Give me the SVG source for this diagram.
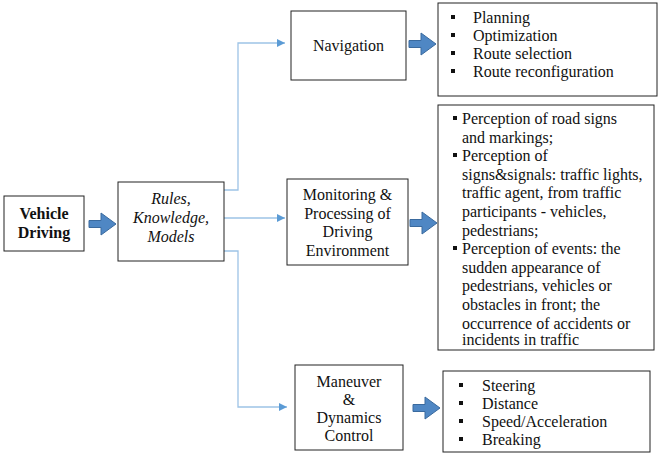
<svg xmlns="http://www.w3.org/2000/svg" width="665" height="462" viewBox="0 0 665 462">
<defs>
<style>
.box{fill:#fff;stroke:#222;stroke-width:1}
.t{font-family:"Liberation Serif","Times New Roman",serif;font-size:16px;fill:#111}
.c{text-anchor:middle}
.conn{fill:none;stroke:#9DC3E6;stroke-width:1.3}
.fat{fill:#4F87C4;stroke:#3A6A9E;stroke-width:1}
.bul{fill:#111}
</style>
<marker id="ah" markerWidth="10" markerHeight="10" refX="8" refY="4" orient="auto" markerUnits="userSpaceOnUse">
<path d="M0,0 L8,4 L0,8 Z" fill="#5B9BD5"/>
</marker>
<path id="fa" d="M0,-3.5 L12,-3.5 L12,-11 L27,0 L12,11 L12,3.5 L0,3.5 Z"/>
</defs>
<rect width="665" height="462" fill="#fff"/>

<g id="connectors">
<path class="conn" d="M224,190 H238 V43 H285" marker-end="url(#ah)"/>
<path class="conn" d="M224,218 H285" marker-end="url(#ah)"/>
<path class="conn" d="M224,251 H238 V407 H287" marker-end="url(#ah)"/>
<use href="#fa" class="fat" x="89" y="224"/>
<use href="#fa" class="fat" x="409" y="44"/>
<use href="#fa" class="fat" x="410" y="223"/>
<use href="#fa" class="fat" x="413" y="408"/>
</g>

<g id="vehicle-driving">
<rect class="box" x="4" y="196" width="80" height="55"/>
<text class="t c" x="44" y="219" font-weight="bold">Vehicle</text>
<text class="t c" x="44" y="238" font-weight="bold">Driving</text>
</g>

<g id="rules">
<rect class="box" x="118" y="182" width="106" height="79" stroke-width="2"/>
<text class="t c" x="171" y="204" font-style="italic">Rules,</text>
<text class="t c" x="171" y="223" font-style="italic">Knowledge,</text>
<text class="t c" x="171" y="242" font-style="italic">Models</text>
</g>

<g id="navigation">
<rect class="box" x="291" y="11" width="115" height="69"/>
<text class="t c" x="348.5" y="51">Navigation</text>
</g>

<g id="navigation-list">
<rect class="box" x="438" y="3" width="219" height="93"/>
<rect class="bul" x="451" y="15" width="4" height="4"/>
<rect class="bul" x="451" y="33" width="4" height="4"/>
<rect class="bul" x="451" y="51" width="4" height="4"/>
<rect class="bul" x="451" y="69" width="4" height="4"/>
<text class="t" x="473" y="23">Planning</text>
<text class="t" x="473" y="41">Optimization</text>
<text class="t" x="473" y="59">Route selection</text>
<text class="t" x="473" y="77">Route reconfiguration</text>
</g>

<g id="monitoring">
<rect class="box" x="287" y="179" width="121" height="86"/>
<text class="t c" x="347.5" y="200">Monitoring &amp;</text>
<text class="t c" x="347.5" y="218.5">Processing of</text>
<text class="t c" x="347.5" y="237">Driving</text>
<text class="t c" x="347.5" y="255.5">Environment</text>
</g>

<g id="monitoring-list">
<rect class="box" x="438" y="105" width="216" height="245"/>
<rect class="bul" x="453" y="116" width="4" height="4"/>
<rect class="bul" x="453" y="153" width="4" height="4"/>
<rect class="bul" x="453" y="246" width="4" height="4"/>
<text class="t" x="462" y="124">Perception of road signs</text>
<text class="t" x="462" y="142.6">and markings;</text>
<text class="t" x="462" y="161.2">Perception of</text>
<text class="t" x="462" y="179.8">signs&amp;signals: traffic lights,</text>
<text class="t" x="462" y="198.4">traffic agent, from traffic</text>
<text class="t" x="462" y="217">participants - vehicles,</text>
<text class="t" x="462" y="235.6">pedestrians;</text>
<text class="t" x="462" y="254.2">Perception of events: the</text>
<text class="t" x="462" y="272.8">sudden appearance of</text>
<text class="t" x="462" y="291.4">pedestrians, vehicles or</text>
<text class="t" x="462" y="310">obstacles in front; the</text>
<text class="t" x="462" y="328.6">occurrence of accidents or</text>
<text class="t" x="462" y="345">incidents in traffic</text>
</g>

<g id="maneuver">
<rect class="box" x="295" y="365" width="108" height="85"/>
<text class="t c" x="349" y="387">Maneuver</text>
<text class="t c" x="349" y="405">&amp;</text>
<text class="t c" x="349" y="423">Dynamics</text>
<text class="t c" x="349" y="441">Control</text>
</g>

<g id="maneuver-list">
<rect class="box" x="443" y="371" width="207" height="81"/>
<rect class="bul" x="459" y="383" width="4" height="4"/>
<rect class="bul" x="459" y="401" width="4" height="4"/>
<rect class="bul" x="459" y="419" width="4" height="4"/>
<rect class="bul" x="459" y="437" width="4" height="4"/>
<text class="t" x="482" y="391">Steering</text>
<text class="t" x="482" y="409">Distance</text>
<text class="t" x="482" y="427">Speed/Acceleration</text>
<text class="t" x="482" y="445">Breaking</text>
</g>
</svg>
